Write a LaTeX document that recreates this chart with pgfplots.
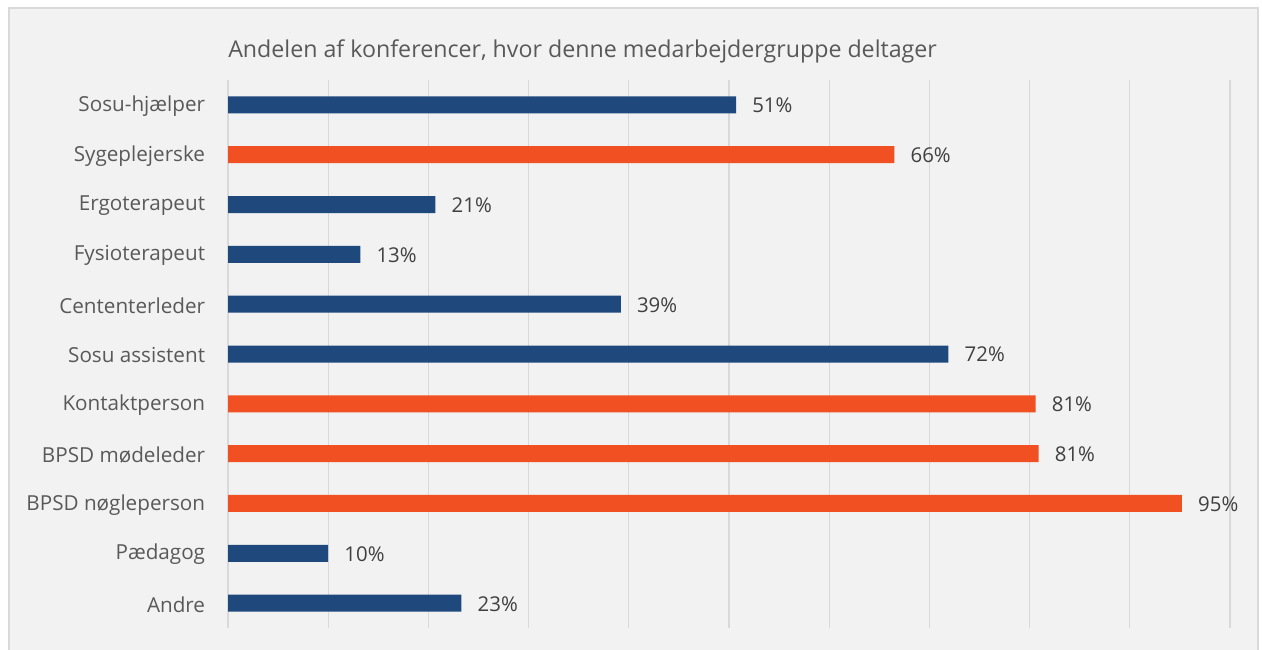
\documentclass[border=0pt]{standalone}
\usepackage{pgfplots}
\pgfplotsset{compat=1.18}
\usepackage{fontspec}
\setmainfont{Open Sans}
\definecolor{barblue}{RGB}{31,73,125}
\definecolor{barorange}{RGB}{241,80,34}
\definecolor{bgray}{RGB}{242,242,242}
\definecolor{gridgray}{RGB}{217,217,217}
\definecolor{txtgray}{RGB}{89,89,89}
\definecolor{valgray}{RGB}{64,64,64}
\begin{document}
\begin{tikzpicture}
\useasboundingbox (0,0) rectangle (946.5pt,-486.75pt);
\fill[white] (0,0) rectangle (946.5pt,-486.75pt);
\filldraw[fill=bgray, draw=gridgray, line width=1.5pt] (6.75pt,-6pt) rectangle (943.5pt,-495pt);
\begin{axis}[
  at={(171pt,-471pt)}, anchor=south west,
  scale only axis, width=751.5pt, height=411pt,
  xmin=0, xmax=100, ymin=0.5, ymax=11.5,
  y dir=reverse,
  xbar, bar width=12.75pt, bar shift=0pt,
  axis line style={draw=none},
  major tick length=0pt,
  xtick={0,10,...,100}, xticklabels={},
  xmajorgrids, grid style={gridgray, line width=1pt},
  ytick={1,...,11},
  yticklabels={Sosu-hjælper,Sygeplejerske,Ergoterapeut,Fysioterapeut,Cententerleder,Sosu assistent,Kontaktperson,BPSD mødeleder,BPSD nøgleperson,Pædagog,Andre},
  yticklabel style={font=\fontsize{15.5pt}{18pt}\selectfont, text=txtgray, inner sep=0pt, xshift=-17pt, yshift=-1pt},
  point meta=explicit symbolic,
  nodes near coords={\pgfplotspointmeta\%},
  nodes near coords style={font=\fontsize{15.3pt}{18pt}\selectfont, text=valgray, anchor=west, inner sep=0pt, xshift=12pt, yshift=-0.5pt},
]
\addplot[fill=barblue, draw=none] table[meta=lab] {
x y lab
50.7 1 51
20.7 3 21
13.2 4 13
39.2 5 39
71.9 6 72
10.0 10 10
23.3 11 23
};
\addplot[fill=barorange, draw=none] table[meta=lab] {
x y lab
66.5 2 66
80.6 7 81
80.9 8 81
95.2 9 95
};
\end{axis}
\node[anchor=base west, inner sep=0pt, text=txtgray, font=\fontsize{17.4pt}{20pt}\selectfont] at (171pt,-43.5pt) {Andelen af konferencer, hvor denne medarbejdergruppe deltager};
\end{tikzpicture}
\end{document}
